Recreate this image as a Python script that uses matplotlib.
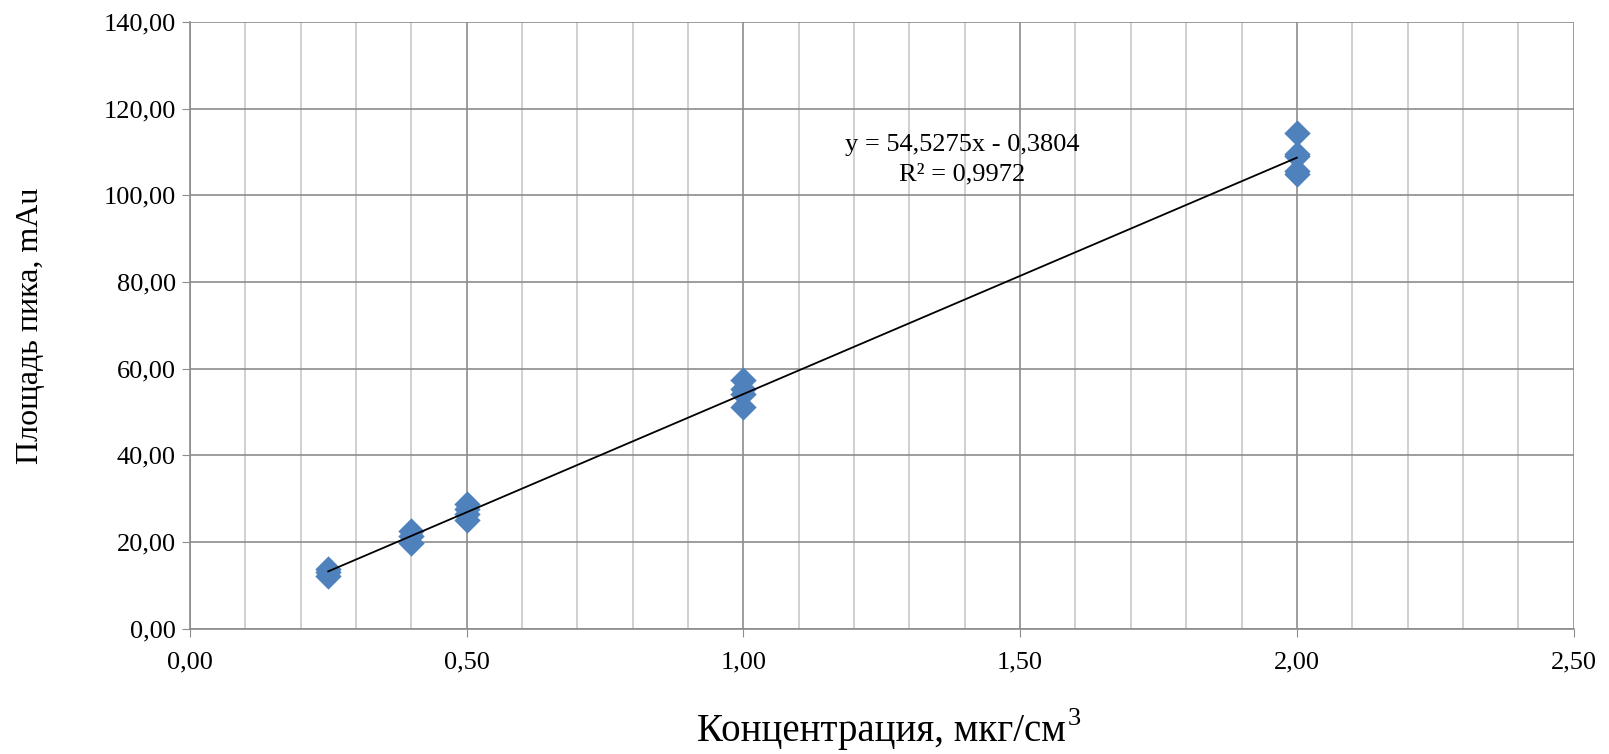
import matplotlib
matplotlib.use("Agg")
import matplotlib.pyplot as plt
import numpy as np
from matplotlib.ticker import MultipleLocator, FuncFormatter

plt.rcParams['font.family'] = ['Liberation Serif', 'DejaVu Serif']

# calibration points
conc = [0.25, 0.25, 0.25, 0.4, 0.4, 0.4, 0.5, 0.5, 0.5, 0.5,
        1.0, 1.0, 1.0, 1.0, 2.0, 2.0, 2.0, 2.0, 2.0]
area = [13.9, 13.2, 12.3, 22.5, 21.3, 19.9, 28.8, 27.7, 26.5, 25.1,
        57.5, 55.3, 54.1, 51.1, 114.4, 109.5, 109.0, 105.7, 105.0]

slope = 54.5275
intercept = -0.3804
r2 = 0.9972

fig = plt.figure(figsize=(16.09, 7.54), dpi=100)
ax = fig.add_axes([0.118, 0.166, 0.860, 0.805])

ax.set_xlim(0, 2.5)
ax.set_ylim(0, 140)
ax.xaxis.set_major_locator(MultipleLocator(0.5))
ax.xaxis.set_minor_locator(MultipleLocator(0.1))
ax.yaxis.set_major_locator(MultipleLocator(20))

comma = FuncFormatter(lambda v, p: f"{v:.2f}".replace(".", ","))
ax.xaxis.set_major_formatter(comma)
ax.yaxis.set_major_formatter(comma)

ax.grid(True, which='major', color='#8c8c8c', lw=1.2)
ax.grid(True, which='minor', axis='x', color='#c8c8c8', lw=1.2)
ax.set_axisbelow(True)

for s in ['top', 'right']:
    ax.spines[s].set_visible(False)
for s in ['left', 'bottom']:
    ax.spines[s].set_color('#8c8c8c')
    ax.spines[s].set_linewidth(1.2)

ax.tick_params(which='major', length=6, color='#8c8c8c', labelsize=19, pad=4)
ax.tick_params(which='minor', length=0)
ax.tick_params(axis='x', pad=10)

ax.scatter(conc, area, marker='D', s=180, color='#4f81bd', zorder=3, linewidths=0)

xs = np.array([min(conc), max(conc)])
ax.plot(xs, slope * xs + intercept, color='black', lw=1.3, zorder=4)

eq = f"y = {slope:.4f}x - {abs(intercept):.4f}".replace(".", ",")
ax.text(1.395, 111.6, eq, ha='center', va='center', fontsize=19)
ax.text(1.395, 104.8, f"R² = {r2:.4f}".replace(".", ","), ha='center', va='center', fontsize=19)

ax.set_ylabel("Площадь пика, mAu", fontsize=23, labelpad=42)
xl = ax.set_xlabel("Концентрация, мкг/см", fontsize=28, labelpad=29)
# superscript 3 kept as real text, placed right after the label
fig.canvas.draw()
bb = xl.get_window_extent()
fig.text(bb.x1 / fig.bbox.width + 0.001, (bb.y0 + bb.height * 0.55) / fig.bbox.height,
         "3", fontsize=19, ha='left', va='bottom')

fig.savefig("out.png", dpi=100)
